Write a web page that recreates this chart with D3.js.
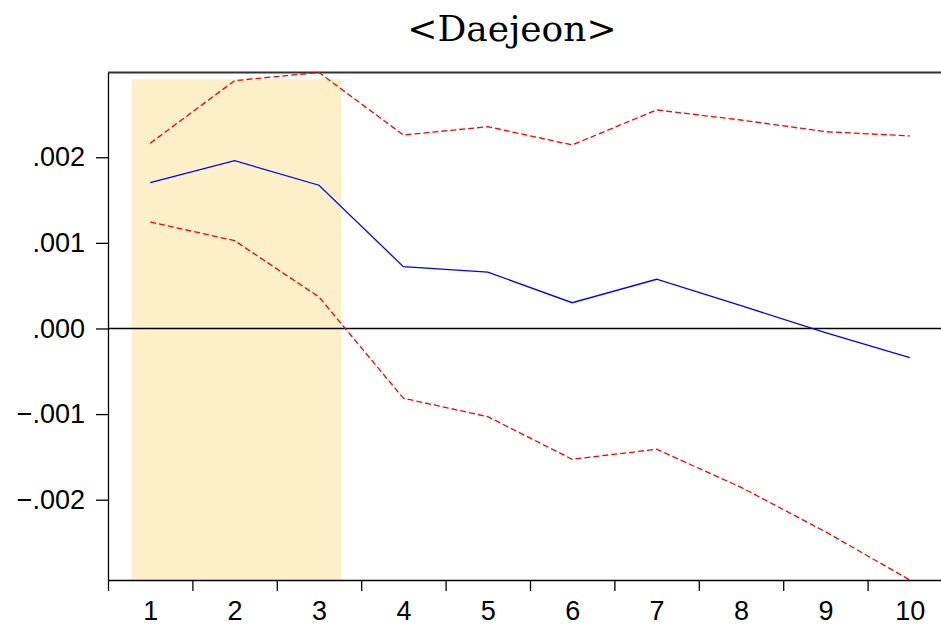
<!DOCTYPE html>
<html lang="en">
<head>
<meta charset="UTF-8">
<title>Daejeon</title>
<script src="https://cdn.jsdelivr.net/npm/d3@7"></script>
<style>
    body{ margin:0; background:#fff; }
    svg{ display:block; }
    .title{ font-family:"DejaVu Serif", serif; font-size:36px; fill:#000; }
    .axis text{ font-family:"Liberation Sans", Arial, sans-serif; font-size:27px; fill:#000; }
    .axis path, .axis line{ stroke:#000; stroke-width:1.3px; }
    .band{ stroke-width:1.3px; stroke:red; stroke-dasharray:6,3; fill:none; }
    .resp{ stroke-width:1.3px; stroke:blue; fill:none; }
</style>
</head>
<body>
<script>
    // impulse response, Daejeon
    const periods = [1,2,3,4,5,6,7,8,9,10];
    const response = [0.001703,0.00196,0.001673,0.000722,0.000658,0.000301,0.000575,0.000266,-0.000049,-0.000341];
    const upper = [0.002164,0.002895,0.00299,0.00226,0.002357,0.002144,0.002553,0.002435,0.002299,0.002249];
    const lower = [0.001244,0.001026,0.000368,-0.000815,-0.00103,-0.001528,-0.001411,-0.001855,-0.002374,-0.002938];
    const yTicks = [-0.002,-0.001,0,0.001,0.002];
    const shadeFrom = 0.78, shadeTo = 3.265, shadeTop = 0.00291;

    const width = 941, height = 628;
    const margins = {top:72.5, bottom:48, left:108, right:-11};

    const svg = d3.select("body").append("svg")
        .attr("width",width).attr("height",height);

    const xScale = d3.scaleLinear()
        .domain([0.5,10.5])
        .range([margins.left,width-margins.right]);
    const yScale = d3.scaleLinear()
        .domain([d3.min(lower),d3.max(upper)])
        .range([height-margins.bottom,margins.top]);

    svg.append("text").attr("class","title")
        .attr("x",512).attr("y",41)
        .attr("text-anchor","middle")
        .text("<Daejeon>");

    // shaded window
    svg.append("rect")
        .attr("x",xScale(shadeFrom))
        .attr("y",yScale(shadeTop))
        .attr("width",xScale(shadeTo)-xScale(shadeFrom))
        .attr("height",yScale.range()[0]-yScale(shadeTop))
        .attr("fill","#fdefc8");

    // zero line
    svg.append("line")
        .attr("x1",margins.left).attr("x2",width)
        .attr("y1",yScale(0)).attr("y2",yScale(0))
        .attr("stroke","#000").attr("stroke-width",1.3);

    // frame top
    svg.append("line")
        .attr("x1",margins.left).attr("x2",width)
        .attr("y1",margins.top).attr("y2",margins.top)
        .attr("stroke","#333").attr("stroke-width",2);

    const line = d3.line().x((d,i)=>xScale(periods[i])).y(d=>yScale(d));
    svg.append("path").attr("class","band").attr("d",line(upper));
    svg.append("path").attr("class","band").attr("d",line(lower));
    svg.append("path").attr("class","resp").attr("d",line(response));

    const fmt = d=>d3.format(".3f")(d).replace("0.",".");
    svg.append("g").attr("class","axis")
        .attr("transform",`translate(${margins.left},0)`)
        .call(d3.axisLeft(yScale).tickValues(yTicks).tickFormat(fmt).tickSize(12).tickPadding(11).tickSizeOuter(0));

    const xAxisY = height-margins.bottom;
    const bounds = d3.range(0.5,11,1);
    svg.append("g").attr("class","axis")
        .attr("transform",`translate(0,${xAxisY})`)
        .call(d3.axisBottom(xScale).tickValues(bounds).tickFormat("").tickSize(11).tickSizeOuter(0));
    const xl = svg.append("g").attr("class","axis")
        .attr("transform",`translate(0,${xAxisY})`)
        .call(d3.axisBottom(xScale).tickValues(periods).tickFormat(d3.format("d")).tickSize(0).tickPadding(21));
    xl.select(".domain").remove();
</script>
</body>
</html>
